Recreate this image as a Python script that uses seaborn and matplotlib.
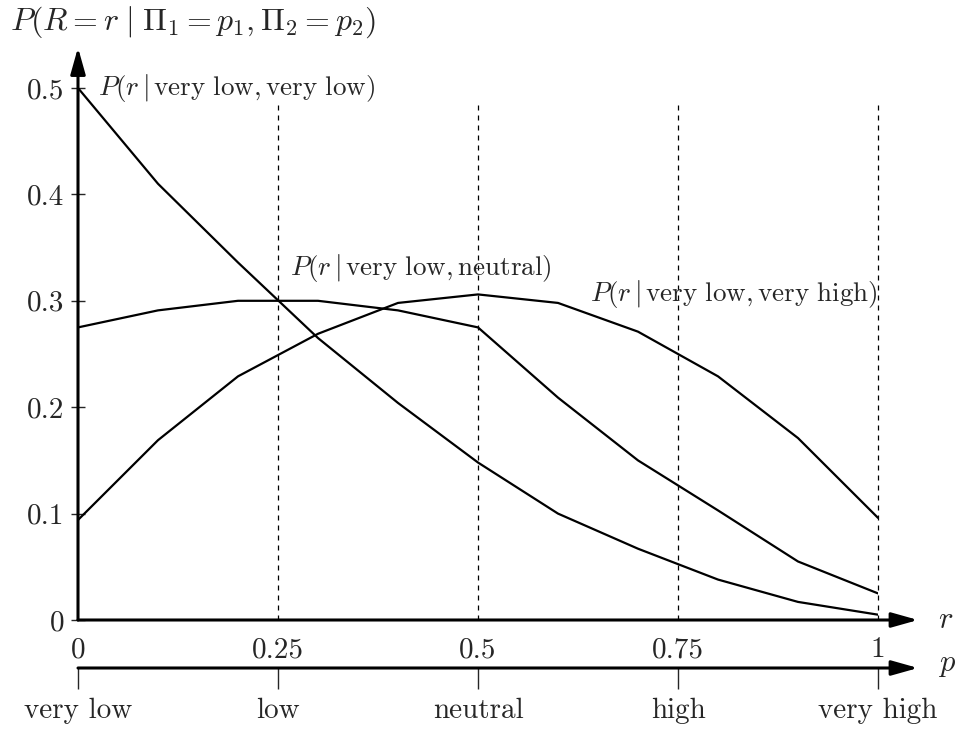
import numpy as np
import pandas as pd
import matplotlib
matplotlib.use("Agg")
import matplotlib.pyplot as plt
import seaborn as sns

# values, r = 0, 0.1, ..., 1
r = [0.0, 0.1, 0.2, 0.3, 0.4, 0.5, 0.6, 0.7, 0.8, 0.9, 1.0]
p_vlow_vlow = [0.5, 0.41, 0.336, 0.265, 0.204, 0.148, 0.1, 0.067, 0.038, 0.017, 0.005]
p_vlow_neutral = [0.275, 0.291, 0.3, 0.3, 0.291, 0.275, 0.209, 0.15, 0.103, 0.055, 0.025]
p_vlow_vhigh = [0.094, 0.169, 0.229, 0.269, 0.298, 0.306, 0.298, 0.271, 0.229, 0.171, 0.096]

r_ticks = [0, 0.25, 0.5, 0.75, 1]
r_tick_labels = ["0", "0.25", "0.5", "0.75", "1"]
y_ticks = [0, 0.1, 0.2, 0.3, 0.4, 0.5]
y_tick_labels = ["0", "0.1", "0.2", "0.3", "0.4", "0.5"]
p_labels = ["very low", "low", "neutral", "high", "very high"]

sns.set_style("white")
plt.rcParams["font.family"] = "serif"
plt.rcParams["font.serif"] = ["cmr10", "DejaVu Serif"]
plt.rcParams["mathtext.fontset"] = "cm"
plt.rcParams["axes.formatter.use_mathtext"] = True

df = pd.DataFrame({"r": r, "vlow": p_vlow_vlow, "neutral": p_vlow_neutral, "vhigh": p_vlow_vhigh})

W, H = 959, 730
fig = plt.figure(figsize=(W / 100, H / 100), dpi=100)
ax = fig.add_axes([78 / W, 110 / H, 800 / W, 532 / H])

for col in ["vlow", "neutral", "vhigh"]:
    sns.lineplot(data=df, x="r", y=col, ax=ax, color="black", lw=1.6)

# dashed guides at the p positions
for x in r_ticks[1:]:
    ax.plot([x, x], [0, 0.486], ls=(0, (4, 4)), color="black", lw=0.9, clip_on=False)

ax.set_xlim(0, 1)
ax.set_ylim(0, 0.5)
for s in ax.spines.values():
    s.set_visible(False)
ax.set_xlabel("")
ax.set_ylabel("")
ax.set_xticks(r_ticks)
ax.set_xticklabels(r_tick_labels, fontsize=21)
ax.set_yticks(y_ticks)
ax.set_yticklabels(y_tick_labels, fontsize=21)
ax.tick_params(axis="x", length=0, pad=12)
ax.tick_params(axis="y", direction="inout", length=10, width=1, pad=5, left=True)

# axis arrows
arrow = dict(arrowstyle="-|>,head_length=1.6,head_width=0.45", color="black", lw=2.2, shrinkA=0, shrinkB=0)
ax.annotate("", xy=(1.05, 0), xytext=(0, 0), arrowprops=arrow, annotation_clip=False)
ax.annotate("", xy=(0, 0.538), xytext=(0, 0), arrowprops=arrow, annotation_clip=False)

# curve labels
fs = 19.5
ax.text(0.025, 0.5, r"$P(r\,|\,\mathrm{very\ low},\mathrm{very\ low})$", fontsize=fs, va="center")
ax.text(0.265, 0.331, r"$P(r\,|\,\mathrm{very\ low},\mathrm{neutral})$", fontsize=fs, va="center")
ax.text(1.0, 0.306, r"$P(r\,|\,\mathrm{very\ low},\mathrm{very\ high})$", fontsize=fs, va="center", ha="right")

fig.text(10 / W, 1 - 22 / H, r"$P(R = r\;|\;\Pi_1 = p_1, \Pi_2 = p_2)$", fontsize=23, va="center")
fig.text(938 / W, 110 / H, r"$r$", fontsize=22, va="center")
fig.text(938 / W, 65 / H, r"$p$", fontsize=22, va="center")

# second axis for p
ax2 = fig.add_axes([78 / W, 62 / H, 800 / W, 0.01])
ax2.set_xlim(0, 1)
ax2.set_ylim(0, 1)
for s in ax2.spines.values():
    s.set_visible(False)
ax2.set_yticks([])
ax2.set_xticks(r_ticks)
ax2.set_xticklabels(p_labels, fontsize=21)
ax2.tick_params(axis="x", direction="out", length=15, width=1, pad=6, bottom=True)
ax2.annotate("", xy=(1.05, 0), xytext=(0, 0), arrowprops=arrow, annotation_clip=False)

fig.savefig("out.png", dpi=100)
